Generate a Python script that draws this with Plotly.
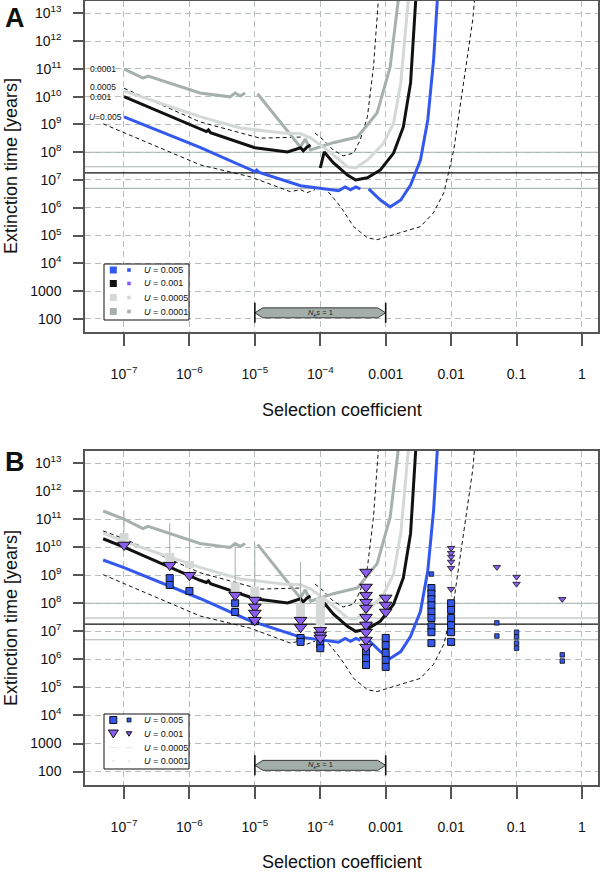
import plotly.graph_objects as go
import math

W, H = 600, 873

# ---------------- data ----------------
# selection coefficients (s) and extinction times (years) for model curves
blue_s = [4.8e-8, 1e-7, 1.45e-6, 1e-5, 1.07e-5, 1.17e-5, 5.0e-5, 1.9e-4, 2.4e-4, 2.9e-4, 3.5e-4, 4.1e-4, None,
          5.5e-4, 8.3e-4, 1.17e-3, 1.7e-3, 2.4e-3, 3.4e-3, 4.4e-3, 5.4e-3, 6.2e-3]
blue_T = [3.5e9, 1.86e9, 1.48e8, 2.0e7, 2.3e7, 1.86e7, 6.2e6, 4.1e6, 5.6e6, 4.4e6, 5.6e6, 4.8e6, None,
          4.8e6, 1.9e6, 1.07e6, 1.9e6, 6.6e6, 5.2e7, 1.45e9, 2.1e11, 4e13]

black_s = [4.8e-8, 1e-7, 1.45e-6, 1.82e-6, 1.95e-6, 2.1e-6, 1e-5, 3.16e-5, 5e-5, 5.5e-5, 6.3e-5, 7.1e-5, None,
           1e-4, 1.15e-4, 1.58e-4, 2.6e-4, 3.47e-4, 5.25e-4, 8.3e-4, 1.32e-3, 1.86e-3, 2.4e-3, 2.9e-3]
black_T = [2.0e10, 1.0e10, 6.6e8, 5.5e8, 6.3e8, 5.0e8, 1.45e8, 1.02e8, 1.45e8, 1.12e8, 1.55e8, 1.82e8, None,
           2.7e7, 1.02e8, 4.2e7, 1.5e7, 1.0e7, 1.2e7, 2.3e7, 9.3e7, 8.1e8, 3.1e10, 4e13]

lgray_s = [4.8e-8, 1e-7, 1.45e-6, 6.0e-6, 2.7e-5, 5e-5, 7.1e-5, 1.41e-4, 2.6e-4, 3.47e-4, 5.25e-4, 9.3e-4,
           1.32e-3, 1.7e-3, 2.0e-3, 2.24e-3]
lgray_T = [3.2e10, 1.6e10, 1.9e9, 7.4e8, 4.9e8, 4.6e8, 3.3e8, 1.0e8, 3.0e7, 2.7e7, 5.2e7, 2.1e8,
           1.1e9, 3.1e10, 1.95e12, 4e13]

dgray_s = [4.8e-8, 1e-7, 1.95e-7, 2.34e-7, 1.45e-6, 4.17e-6, 5.0e-6, 6.0e-6, 7.1e-6, None,
           1.1e-5, 4.95e-5, 5.9e-5, 7.1e-5, 1.58e-4, 3.7e-4, 7.4e-4, 1.17e-3, 1.58e-3]
dgray_T = [1.95e11, 1.0e11, 4.6e10, 5.5e10, 1.35e10, 9.8e9, 1.35e10, 1.05e10, 1.35e10, None,
           1.26e10, 1.55e8, 3.0e8, 1.2e8, 2.2e8, 3.5e8, 2.6e9, 1.17e11, 4e13]

udash_s = [4.8e-8, 1e-7, 1.45e-6, 1.2e-5, 4.95e-5, 5.5e-5, 6.3e-5, None,
           8.3e-5, 1.12e-4, 1.58e-4, 2.24e-4, 3.24e-4, 4.07e-4, 5.25e-4, 6.5e-4, 7.8e-4]
udash_T = [3.8e10, 2.0e10, 1.23e9, 3.2e8, 3.5e8, 4.2e8, 3.5e8, None,
           4.9e8, 2.75e8, 1.2e8, 7.4e7, 9.3e7, 2.75e8, 1.86e9, 1.17e11, 4e13]

ldash_s = [4.8e-8, 1.46e-6, 8.5e-6, 3.5e-5, 4.95e-5, 6.3e-5, 8.3e-5, None,
           1.33e-4, 2.04e-4, 3.24e-4, 5.25e-4, 7.4e-4, 1.7e-3, 3.39e-3, 5.37e-3, 7.76e-3, 1.1e-2, 1.55e-2, 2.14e-2, 2.3e-2]
ldash_T = [1.05e9, 3.5e7, 1.3e7, 3.8e6, 4.5e6, 3.5e6, 4.5e6, None,
           3.7e6, 1.1e6, 2.1e5, 8.3e4, 7.1e4, 1.26e5, 2.1e5, 6.6e5, 3.5e6, 1.23e8, 3.1e10, 5.8e12, 4e13]

# horizontal reference levels (years)
ref_gray_T = [1e8, 3e7, 5e6]
ref_black_T = [1.8e7]

# simulation results (panel B)
sq_big_s = [5e-7, 5e-7, 1e-6, 5e-6, 5e-6, 1e-5, 5e-5, 5e-5, 1e-4, 1e-4, 5e-4, 5e-4, 5e-4,
            1e-3, 1e-3, 1e-3, 1e-3, 1e-3, 5e-3, 5e-3, 5e-3, 5e-3, 5e-3, 5e-3, 5e-3, 5e-3, 5e-3,
            1e-2, 1e-2, 1e-2, 1e-2, 1e-2, 1e-2]
sq_big_T = [7.9e8, 4.5e8, 2.75e8, 1.0e8, 4.9e7, 2.3e7, 5.8e6, 4.2e6, 3.5e6, 2.5e6, 1.8e6, 1.1e6, 6.3e5,
            5.8e6, 3.2e6, 1.7e6, 9.5e5, 5.4e5, 3.5e8, 2.2e8, 1.4e8, 8.5e7, 5.0e7, 3.0e7, 1.5e7, 9.3e6, 3.8e6,
            1.0e8, 5.8e7, 3.0e7, 1.66e7, 9.3e6, 4.2e6]
sq_small_s = [5e-3, 5e-2, 5e-2, 0.1, 0.1, 0.1, 0.1, 0.5, 0.5]
sq_small_T = [1.1e9, 2.0e7, 6.8e6, 9.3e6, 6.3e6, 3.8e6, 2.5e6, 1.45e6, 8.7e5]

tri_big_s = [1e-7, 5e-7, 1e-6, 5e-6, 1e-5, 1e-5, 1e-5, 1e-5, 5e-5, 5e-5, 1e-4, 1e-4, 1e-4,
             5e-4, 5e-4, 5e-4, 5e-4, 5e-4, 5e-4, 5e-4, 5e-4, 5e-4, 5e-4, 1e-3, 1e-3, 1e-3]
tri_big_T = [1.2e10, 2.3e9, 1.0e9, 1.95e8, 1.3e8, 7.4e7, 4.5e7, 2.5e7, 2.5e7, 1.4e7, 1.1e7, 7.4e6, 5.8e6,
             1.3e9, 3.8e8, 1.95e8, 1.1e8, 6.8e7, 3.2e7, 1.7e7, 9.3e6, 4.9e6, 2.75e6, 1.55e8, 8.7e7, 4.9e7]
tri_small_s = [1e-2, 1e-2, 1e-2, 1e-2, 1e-2, 1e-2, 5e-2, 0.1, 0.1, 0.5]
tri_small_T = [9.3e9, 6.2e9, 4.5e9, 3.0e9, 1.8e9, 3.2e8, 1.95e9, 8.7e8, 4.9e8, 1.4e8]

lg_bar_s = [1e-7, 5e-7, 1e-6, 5e-6, 1e-5, 5e-5, 1e-4]
lg_bar_top = [3.2e10, 6.3e9, 3.2e9, 5.6e8, 4.0e8, 1.0e8, 1.6e8]
lg_bar_bot = [1.8e10, 3.2e9, 1.8e9, 2.5e8, 1.3e8, 2.5e7, 1.6e7]
dg_line_top = [2.1e11, 7.2e10, 6.2e10, 1.2e10, 1.4e10, 3.0e9, 1.0e9]

# axis ticks
x_tickvals = [1e-7, 1e-6, 1e-5, 1e-4, 1e-3, 1e-2, 1e-1, 1]
x_ticktext = ['10<sup>\u22127</sup>', '10<sup>\u22126</sup>', '10<sup>\u22125</sup>', '10<sup>\u22124</sup>',
              '0.001', '0.01', '0.1', '1']
y_tickvals = [1e2, 1e3, 1e4, 1e5, 1e6, 1e7, 1e8, 1e9, 1e10, 1e11, 1e12, 1e13]
y_ticktext = ['100', '1000'] + ['10<sup>%d</sup>' % k for k in range(4, 14)]

legend_labels = ['0.005', '0.001', '0.0005', '0.0001']
nes_range = [1e-5, 1e-3]
nes_T = 166

# ---------------- styling ----------------
BLUE = '#3258ef'
BLACK = '#111111'
LGRAY = '#d4d9d7'
DGRAY = '#a6b0ad'
PURPLE = '#8a5cef'
REFGRAY = '#aab4b1'
GRID = '#b7c0bc'
AXC = '#555555'
FONT = 'Liberation Sans, Arial, Helvetica, sans-serif'

X_RANGE = [-7.596, 0.245]
Y_RANGE_A = [1.53, 13.44]
Y_RANGE_B = [1.52, 13.43]
XDOM = [85 / W, 598 / W]
YDOM_A = [1 - 332 / H, 1 - 1 / H]
YDOM_B = [1 - 785 / H, 1 - 451 / H]

fig = go.Figure()


def add_line(xa, ya, xs, ys, color, width, dash='solid'):
    fig.add_trace(go.Scatter(x=xs, y=ys, mode='lines', xaxis=xa, yaxis=ya,
                             line=dict(color=color, width=width, dash=dash),
                             connectgaps=False, showlegend=False, hoverinfo='skip'))


xmin, xmax = 10 ** X_RANGE[0], 10 ** X_RANGE[1]

for (xa, ya, start) in [('x', 'y', 1), ('x2', 'y2', 0)]:
    # reference lines
    for t in ref_gray_T:
        add_line(xa, ya, [xmin, xmax], [t, t], REFGRAY, 1.1)
    for t in ref_black_T:
        add_line(xa, ya, [xmin, xmax], [t, t], BLACK, 1.1)
    # model curves
    add_line(xa, ya, ldash_s, ldash_T, BLACK, 1, '4px,3px')
    add_line(xa, ya, udash_s[start:], udash_T[start:], BLACK, 1, '4px,3px')
    add_line(xa, ya, dgray_s[start:], dgray_T[start:], DGRAY, 3)
    add_line(xa, ya, lgray_s[start:], lgray_T[start:], LGRAY, 3)
    add_line(xa, ya, black_s[start:], black_T[start:], BLACK, 3)
    add_line(xa, ya, blue_s[start:], blue_T[start:], BLUE, 3)

    # N_e s = 1 bar
    l0, l1 = math.log10(nes_range[0]), math.log10(nes_range[1])
    ly = math.log10(nes_T)
    yr = Y_RANGE_A if xa == 'x' else Y_RANGE_B
    dpx_x = (X_RANGE[1] - X_RANGE[0]) / (XDOM[1] - XDOM[0]) / W
    dpx_y = (yr[1] - yr[0]) / (YDOM_A[1] - YDOM_A[0] if xa == 'x' else YDOM_B[1] - YDOM_B[0]) / H
    tip = 8 * dpx_x
    hh = 5 * dpx_y
    poly_x = [l0, l0 + tip, l1 - tip, l1, l1 - tip, l0 + tip, l0]
    poly_y = [ly, ly + hh, ly + hh, ly, ly - hh, ly - hh, ly]
    fig.add_trace(go.Scatter(x=[10 ** v for v in poly_x], y=[10 ** v for v in poly_y], mode='lines',
                             fill='toself', fillcolor='#a3aeab', line=dict(color=BLACK, width=0.8),
                             xaxis=xa, yaxis=ya, showlegend=False, hoverinfo='skip'))
    bh = 10 * dpx_y
    fig.add_trace(go.Scatter(x=[nes_range[0], nes_range[0], None, nes_range[1], nes_range[1]],
                             y=[10 ** (ly - bh), 10 ** (ly + bh), None, 10 ** (ly - bh), 10 ** (ly + bh)],
                             mode='lines', line=dict(color=BLACK, width=1.6),
                             xaxis=xa, yaxis=ya, showlegend=False, hoverinfo='skip'))
    fig.add_annotation(x=(l0 + l1) / 2, y=ly, xref=xa, yref=ya, showarrow=False,
                       text='<i>N</i><sub>e</sub><i>s</i> = 1', font=dict(size=7.5, family=FONT, color='#222'))

# ---- panel B simulation markers ----
bx, by = [], []
for s, t, b in zip(lg_bar_s, lg_bar_top, lg_bar_bot):
    bx += [s, s, None]
    by += [t, b, None]
dx, dy = [], []
for s, t, b in zip(lg_bar_s, dg_line_top, lg_bar_top):
    dx += [s, s, None]
    dy += [t, b, None]
add_line('x2', 'y2', dx, dy, DGRAY, 1)
add_line('x2', 'y2', bx, by, LGRAY, 9)

fig.add_trace(go.Scatter(x=sq_big_s, y=sq_big_T, mode='markers', xaxis='x2', yaxis='y2',
                         marker=dict(symbol='square', size=7, color=BLUE, line=dict(color=BLACK, width=1)),
                         showlegend=False, hoverinfo='skip'))
fig.add_trace(go.Scatter(x=sq_small_s, y=sq_small_T, mode='markers', xaxis='x2', yaxis='y2',
                         marker=dict(symbol='square', size=4.5, color=BLUE, line=dict(color=BLACK, width=0.8)),
                         showlegend=False, hoverinfo='skip'))
fig.add_trace(go.Scatter(x=tri_big_s, y=tri_big_T, mode='markers', xaxis='x2', yaxis='y2',
                         marker=dict(symbol='triangle-down', size=11, color=PURPLE, line=dict(color=BLACK, width=1)),
                         showlegend=False, hoverinfo='skip'))
fig.add_trace(go.Scatter(x=tri_small_s, y=tri_small_T, mode='markers', xaxis='x2', yaxis='y2',
                         marker=dict(symbol='triangle-down', size=6.5, color=PURPLE, line=dict(color=BLACK, width=0.8)),
                         showlegend=False, hoverinfo='skip'))

# ---------------- axes ----------------
common_x = dict(type='log', range=X_RANGE, domain=XDOM, tickvals=x_tickvals, ticktext=x_ticktext,
                ticks='outside', ticklen=12, tickwidth=1.5, tickcolor=AXC, ticklabelstandoff=16,
                showline=True, mirror=True, linecolor=AXC, linewidth=1.5,
                showgrid=True, gridcolor=GRID, gridwidth=1.2, griddash='6px,4px',
                tickfont=dict(size=14, family=FONT, color='#111'), zeroline=False, fixedrange=True)
common_y = dict(type='log', tickvals=y_tickvals, ticktext=y_ticktext,
                ticks='outside', ticklen=10, tickwidth=1.5, tickcolor=AXC, ticklabelstandoff=9,
                showline=True, mirror=True, linecolor=AXC, linewidth=1.5,
                showgrid=True, gridcolor=GRID, gridwidth=1.2, griddash='6px,4px',
                tickfont=dict(size=14, family=FONT, color='#111'), zeroline=False, fixedrange=True)

fig.update_layout(
    width=W, height=H, margin=dict(l=0, r=0, t=0, b=0),
    paper_bgcolor='white', plot_bgcolor='white', showlegend=False,
    xaxis=dict(common_x, anchor='y'),
    yaxis=dict(common_y, range=Y_RANGE_A, domain=YDOM_A, anchor='x'),
    xaxis2=dict(common_x, anchor='y2'),
    yaxis2=dict(common_y, range=Y_RANGE_B, domain=YDOM_B, anchor='x2'),
)


def P(px, py):
    return px / W, 1 - py / H


def ann_px(px, py, text, size, xanchor='left', **kw):
    x, y = P(px, py)
    fig.add_annotation(x=x, y=y, xref='paper', yref='paper', text=text, showarrow=False,
                       xanchor=xanchor, yanchor='middle', font=dict(size=size, family=FONT, color='#111'), **kw)


def rect_px(cx, cy, size, fill, line=None, lw=0):
    x0, y0 = P(cx - size / 2, cy + size / 2)
    x1, y1 = P(cx + size / 2, cy - size / 2)
    fig.add_shape(type='rect', xref='paper', yref='paper', x0=x0, y0=y0, x1=x1, y1=y1,
                  fillcolor=fill, line=dict(color=line or fill, width=lw))


def tri_px(cx, cy, w, h, fill):
    pts = [(cx - w / 2, cy - h / 2), (cx + w / 2, cy - h / 2), (cx, cy + h / 2)]
    pp = [P(a, b) for a, b in pts]
    path = 'M %f %f L %f %f L %f %f Z' % (pp[0][0], pp[0][1], pp[1][0], pp[1][1], pp[2][0], pp[2][1])
    fig.add_shape(type='path', xref='paper', yref='paper', path=path, fillcolor=fill,
                  line=dict(color=BLACK, width=1))


# panel letters and axis titles
ann_px(15, 18, '<b>A</b>', 27, xanchor='center')
ann_px(15, 462, '<b>B</b>', 27, xanchor='center')
for ytitle, xtitle in [(166, 410), (618, 862)]:
    ann_px(11, ytitle, 'Extinction time [years]', 18, xanchor='center', textangle=-90)
    ann_px(341.5, xtitle, 'Selection coefficient', 18, xanchor='center')

# curve labels in panel A
ann_px(88, 69, '0.0001', 8.5)
ann_px(88, 87, '0.0005', 8.5)
ann_px(88, 97, '0.001', 8.5)
ann_px(87, 117, '<i>U</i>=0.005', 8.5)

# legend panel A
x0, y0 = P(104, 320)
x1, y1 = P(189, 264)
fig.add_shape(type='rect', xref='paper', yref='paper', x0=x0, y0=y0, x1=x1, y1=y1,
              fillcolor='white', line=dict(color=BLACK, width=1))
rowsA = [270, 283.5, 297.5, 311.5]
big_cols = [BLUE, BLACK, LGRAY, DGRAY]
small_cols = [BLUE, PURPLE, LGRAY, DGRAY]
for ry, bc, sc, lab in zip(rowsA, big_cols, small_cols, legend_labels):
    rect_px(113.3, ry, 7, bc)
    rect_px(129, ry, 3.6, sc)
    ann_px(141.5, ry, '<i>U</i> = ' + lab, 9)

# legend panel B
x0, y0 = P(104, 769)
x1, y1 = P(189, 714)
fig.add_shape(type='rect', xref='paper', yref='paper', x0=x0, y0=y0, x1=x1, y1=y1,
              fillcolor='white', line=dict(color=BLACK, width=1))
rowsB = [720, 734, 747.7, 761]
rect_px(113.3, rowsB[0], 7, BLUE, BLACK, 1)
rect_px(129, rowsB[0], 4, BLUE, BLACK, 0.8)
tri_px(113.3, rowsB[1], 10, 8, PURPLE)
tri_px(129, rowsB[1], 5.5, 4.5, PURPLE)
for cx, half in [(113.3, 5), (129, 3)]:
    a0 = P(cx - half, rowsB[2])
    a1 = P(cx + half, rowsB[2])
    fig.add_shape(type='line', xref='paper', yref='paper', x0=a0[0], y0=a0[1], x1=a1[0], y1=a1[1],
                  line=dict(color='#e4e8e6', width=1))
    rect_px(cx, rowsB[3], 1.2, '#b0b8b5')
for ry, lab in zip(rowsB, legend_labels):
    ann_px(141.5, ry, '<i>U</i> = ' + lab, 9)

fig.write_html('out.html', config={'displayModeBar': False},
               post_script="document.body.style.margin='0';document.body.style.overflow='hidden';")
